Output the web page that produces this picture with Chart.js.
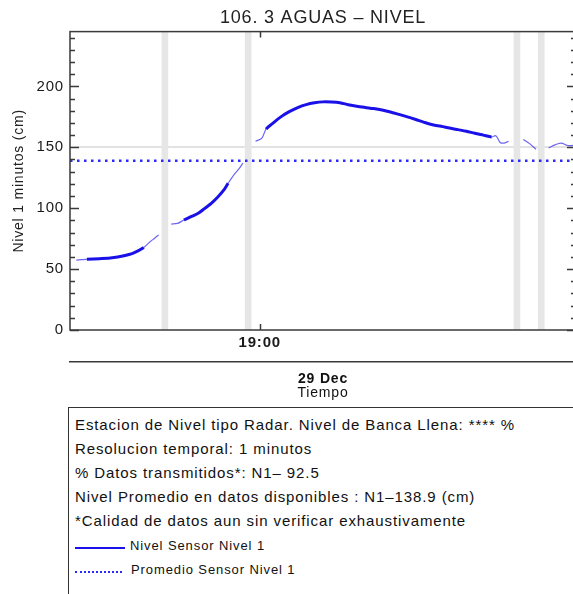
<!DOCTYPE html>
<html lang="es">
<head>
    <meta charset="UTF-8">
    <title>106. 3 AGUAS - NIVEL</title>
    <script src="https://cdn.jsdelivr.net/npm/chart.js"></script>
    <style>
        body { margin: 0; width: 573px; height: 594px; overflow: hidden; background: #fff; font-family: 'Liberation Sans', Arial, sans-serif; color: #111; }
        #wrap { position: relative; width: 573px; height: 594px; overflow: hidden; }
        canvas { display: block; position: absolute; left: 0; top: 0; }
        #info { position: absolute; left: 68px; top: 407px; width: 540px; height: 220px; border: 1.5px solid #333; padding: 5px 0 0 6px; box-sizing: border-box; letter-spacing: 0.9px; }
        #info .l { font-size: 15px; line-height: 24px; height: 24px; white-space: nowrap; }
        #info .k { font-size: 13px; line-height: 24px; height: 24px; white-space: nowrap; }
        #info .k.first { margin-top: 1px; }
        #info .k span.s { display: inline-block; width: 50px; margin-right: 5px; vertical-align: 1px; }
    </style>
</head>
<body>
<div id="wrap">
    <canvas id="myChart" width="580" height="405"></canvas>
    <div id="info">
        <div class="l">Estacion de Nivel tipo Radar. Nivel de Banca Llena: **** %</div>
        <div class="l">Resolucion temporal: 1 minutos</div>
        <div class="l">% Datos transmitidos*: N1&#8211; 92.5</div>
        <div class="l">Nivel Promedio en datos disponibles : N1&#8211;138.9 (cm)</div>
        <div class="l">*Calidad de datos aun sin verificar exhaustivamente</div>
        <div class="k first"><span class="s" style="border-bottom: 2px solid #1a10e8;"></span>Nivel Sensor Nivel 1</div>
        <div class="k"><span class="s" style="border-bottom: 2px dotted #2a2aff; width: 47px; margin-right: 9px;"></span>Promedio Sensor Nivel 1</div>
    </div>
</div>
<script>
    // minutes after 17:30 on 29 Dec (1 min data, null = gap)
    const minutes = [3, 8, 14, 20, 25, 30, 35, 38, 40, 42, 45,
        48, 51, 54, 58, 61, 64, 67, 70, 73, 75, 78, 80, 82, 85,
        88, 91, 93, 96, 100, 104, 108, 112, 116, 120, 124, 128, 132, 136, 140, 144, 148,
        152, 156, 160, 164, 168, 172, 176, 180, 184, 188, 192, 196, 200, 202, 204, 206, 208, 211,
        215, 218, 221, 224,
        227, 230, 233, 236, 240];
    const levels = [57.4, 58, 58.6, 59.4, 60.8, 63.2, 67.8, 72.5, 75.2, 78, null,
        87, 87.5, 90.3, 93.5, 96, 100, 104, 109, 115, 120.5, 128, 132, 137, null,
        155, 157.6, 165, 169.5, 175, 179.3, 182.6, 185, 186.5, 187.3, 187.2, 186.6, 185, 183.7, 182.7, 181.8, 180.6,
        179, 177, 175, 172.8, 170.5, 168.5, 167.3, 165.8, 164.5, 163.2, 161.5, 160, 158.5, 159.5, 154, 153.5, 155, null,
        156.5, 153, 148.3, null,
        149.4, 152, 153.5, 151.5, 151.8];
    const meanLevel = 138.9;
    const gapMinutes = [45, 84.5, 212, 223.5];
    const xTickLabel = '19:00';
    const xTickMinute = 90;
    const dateLabel = '29 Dec';

    // where the trace is drawn bold
    const thickRanges = [[8, 36], [53, 75], [93, 200]];
    const isThick = (a, b) => thickRanges.some(r => a >= r[0] && b <= r[1]);

    const font = "'Liberation Sans', Arial, sans-serif";

    const spacing = {
        id: 'spacing',
        beforeLayout(chart) { chart.ctx.letterSpacing = '0.8px'; },
        beforeDraw(chart) { chart.ctx.letterSpacing = '0.8px'; }
    };

    const frame = {
        id: 'frame',
        afterDatasetsDraw(chart) {
            const { ctx, chartArea: a, scales } = chart;
            ctx.save();
            ctx.strokeStyle = '#3a3a3a';
            ctx.lineWidth = 1.5;
            ctx.strokeRect(a.left, a.top, a.right - a.left, a.bottom - a.top);
            ctx.beginPath();
            for (let v = 0; v <= 240; v += 10) {
                const y = Math.round(scales.y.getPixelForValue(v)) + 0.5;
                const len = v % 50 === 0 ? 9 : 5;
                ctx.moveTo(a.left, y); ctx.lineTo(a.left + len, y);
                ctx.moveTo(a.right, y); ctx.lineTo(a.right - len, y);
            }
            const x = Math.round(scales.x.getPixelForValue(xTickMinute)) + 0.5;
            ctx.moveTo(x, a.bottom); ctx.lineTo(x, a.bottom - 6);
            ctx.moveTo(x, a.top); ctx.lineTo(x, a.top + 6);
            ctx.stroke();
            ctx.restore();
        }
    };

    const ctx = document.getElementById('myChart').getContext('2d');
    const myChart = new Chart(ctx, {
        type: 'line',
        data: {
            datasets: [
                {
                    label: 'Nivel Sensor Nivel 1',
                    data: minutes.map((m, i) => ({ x: m, y: levels[i] })),
                    borderColor: '#1a10e8',
                    borderWidth: 3,
                    pointRadius: 0,
                    spanGaps: false,
                    tension: 0.3,
                    segment: {
                        borderWidth: c => isThick(c.p0.parsed.x, c.p1.parsed.x) ? 3 : 1.2,
                        borderColor: c => isThick(c.p0.parsed.x, c.p1.parsed.x) ? '#1a10e8' : 'rgba(60,50,240,0.75)'
                    },
                    order: 1
                },
                {
                    label: 'Promedio Sensor Nivel 1',
                    data: [{ x: 0, y: meanLevel }, { x: 240, y: meanLevel }],
                    borderColor: '#2a2aff',
                    borderWidth: 2.5,
                    borderDash: [2.5, 4.5],
                    pointRadius: 0,
                    order: 2
                },
                {
                    type: 'bar',
                    label: 'sin datos',
                    data: gapMinutes.map(m => ({ x: m, y: 1 })),
                    yAxisID: 'yBand',
                    backgroundColor: '#e6e6e6',
                    barThickness: 6,
                    grouped: false,
                    order: 3
                }
            ]
        },
        options: {
            responsive: false,
            animation: false,
            layout: { padding: { left: 0, right: 4, top: 0, bottom: 0 } },
            plugins: {
                legend: { display: false },
                tooltip: { enabled: false },
                title: {
                    display: true,
                    text: '106. 3 AGUAS \u2013 NIVEL',
                    fullSize: false,
                    color: '#222',
                    font: { family: font, size: 18, weight: 'normal' },
                    padding: { top: 7, bottom: 3 }
                }
            },
            scales: {
                x: {
                    type: 'linear',
                    min: 0,
                    max: 240,
                    offset: false,
                    position: 'bottom',
                    afterBuildTicks: s => { s.ticks = [{ value: xTickMinute }]; },
                    afterFit: s => { s.height = 32; },
                    ticks: {
                        callback: () => xTickLabel,
                        color: '#1a1a1a',
                        padding: 4,
                        maxRotation: 0,
                        font: { family: font, size: 15, weight: 'bold' }
                    },
                    grid: { drawOnChartArea: false, drawTicks: false, offset: false },
                    border: { display: false }
                },
                x2: {
                    type: 'linear',
                    min: 0,
                    max: 240,
                    offset: false,
                    position: 'bottom',
                    afterBuildTicks: s => { s.ticks = [{ value: 120 }]; },
                    afterFit: s => { s.height = 43; },
                    ticks: {
                        callback: () => dateLabel,
                        color: '#111',
                        padding: 9,
                        maxRotation: 0,
                        font: { family: font, size: 14, weight: 'bold' }
                    },
                    grid: { drawOnChartArea: false, drawTicks: false, offset: false },
                    border: { display: true, color: '#3a3a3a', width: 1.5 },
                    title: {
                        display: true,
                        text: 'Tiempo',
                        color: '#111',
                        font: { family: font, size: 14 },
                        padding: { top: 0, bottom: 3 }
                    }
                },
                y: {
                    min: 0,
                    max: 245,
                    afterBuildTicks: s => { s.ticks = s.ticks.filter(t => t.value % 50 === 0); },
                    afterFit: s => { s.width = 70; },
                    ticks: {
                        stepSize: 50,
                        color: '#1a1a1a',
                        padding: 6,
                        font: { family: font, size: 15 }
                    },
                    grid: {
                        drawTicks: false,
                        color: c => c.tick && c.tick.value === 150 ? '#e2e2e2' : 'rgba(0,0,0,0)',
                        lineWidth: 2
                    },
                    border: { display: false },
                    title: {
                        display: true,
                        text: 'Nivel 1 minutos (cm)',
                        color: '#222',
                        font: { family: font, size: 14 },
                        padding: { top: 11, bottom: 0 }
                    }
                },
                yBand: { display: false, min: 0, max: 1 }
            }
        },
        plugins: [spacing, frame]
    });
</script>
</body>
</html>
